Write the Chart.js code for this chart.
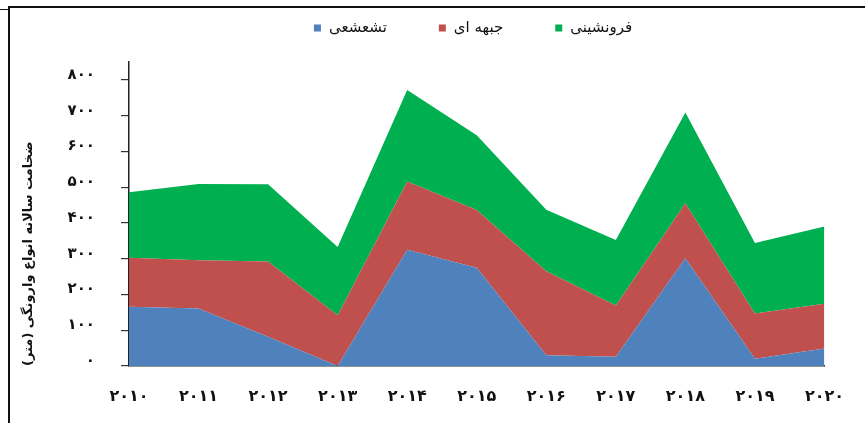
<!DOCTYPE html>
<html>
<head>
<meta charset="utf-8">
<script src="https://cdn.jsdelivr.net/npm/chart.js@4/dist/chart.umd.min.js"></script>
<style>
  body { margin: 0; background: #fff; }
  #wrap { position: relative; width: 865px; height: 423px; }
  #frame { position: absolute; left: 8px; top: 6px; right: 0; bottom: 0; border-top: 2px solid #111; border-left: 2px solid #111; }
  #stub { position: absolute; left: 0; top: 9px; width: 9px; border-top: 1px solid #111; }
  canvas { position: absolute; left: 0; top: 0; }
</style>
</head>
<body>
<div id="wrap">
  <div id="stub"></div>
  <div id="frame"></div>
  <canvas id="myChart" width="865" height="423"></canvas>
</div>
<script>
const years = ['۲۰۱۰', '۲۰۱۱', '۲۰۱۲', '۲۰۱۳', '۲۰۱۴', '۲۰۱۵', '۲۰۱۶', '۲۰۱۷', '۲۰۱۸', '۲۰۱۹', '۲۰۲۰'];
const seriesNames = ['تشعشعی', 'جبهه ای', 'فرونشینی'];
const radiative = [166, 161, 82, 0, 325, 275, 30, 26, 301, 20, 49];
const frontal = [137, 135, 210, 142, 191, 161, 235, 143, 154, 127, 125];
const subsidence = [183, 213, 216, 191, 256, 209, 172, 183, 254, 197, 216];
const yTicks = [0, 100, 200, 300, 400, 500, 600, 700, 800];
const yTitle = 'ضخامت سالانه انواع وارونگی (متر)';

const faDigits = '۰۱۲۳۴۵۶۷۸۹';
const toFa = v => String(v).replace(/\d/g, d => faDigits[d]);

const font = "'DejaVu Sans', sans-serif";
const ctx = document.getElementById('myChart').getContext('2d');

// legend drawn by hand: box left of text, wide gaps, but no tall legend block
const topLegend = {
    id: 'topLegend',
    afterDraw(chart) {
        const c = chart.ctx;
        const box = 7, gap = 8, space = 52, y = 28;
        c.save();
        c.font = '15px ' + font;
        c.textBaseline = 'middle';
        c.textAlign = 'left';
        const items = chart.data.datasets.map(ds => ({ text: ds.label, color: ds.backgroundColor, w: c.measureText(ds.label).width }));
        const total = items.reduce((s, it) => s + box + gap + it.w, 0) + space * (items.length - 1);
        let x = 473 - total / 2;
        items.forEach(it => {
            c.fillStyle = it.color;
            c.fillRect(x, y - box / 2, box, box);
            c.fillStyle = '#111';
            c.fillText(it.text, x + box + gap, y);
            x += box + gap + it.w + space;
        });
        c.restore();
    },
};

const data = {
    labels: years,
    datasets: [
        { label: seriesNames[0], data: radiative, backgroundColor: '#4f81bd', fill: 'origin' },
        { label: seriesNames[1], data: frontal, backgroundColor: '#c0504d', fill: '-1' },
        { label: seriesNames[2], data: subsidence, backgroundColor: '#00b050', fill: '-1' },
    ],
};

const config = {
    type: 'line',
    data: data,
    plugins: [topLegend],
    options: {
        responsive: false,
        animation: false,
        layout: { padding: { left: 12, right: 27, top: 62, bottom: 0 } },
        elements: {
            line: { borderWidth: 0, tension: 0 },
            point: { radius: 0 },
        },
        plugins: {
            tooltip: { enabled: false },
            legend: { display: false },
        },
        scales: {
            x: {
                offset: false,
                grid: { display: false, drawTicks: false },
                border: { display: true, color: '#222', width: 1.5 },
                ticks: {
                    color: '#111',
                    font: { family: font, size: 16, weight: 'bold' },
                    padding: 21,
                    maxRotation: 0,
                    autoSkip: false,
                },
                afterFit: scale => { scale.height = 57; },
            },
            y: {
                stacked: true,
                min: 0,
                max: 850,
                afterBuildTicks: scale => { scale.ticks = yTicks.map(v => ({ value: v })); },
                grid: { drawOnChartArea: false, drawTicks: true, tickLength: 8, color: '#333', lineWidth: 1.2 },
                border: { display: true, color: '#222', width: 1.5 },
                ticks: {
                    color: '#111',
                    font: { family: font, size: 15, weight: 'bold' },
                    padding: 26,
                    labelOffset: -5,
                    callback: v => toFa(v),
                },
                title: {
                    display: true,
                    text: yTitle,
                    align: 'start',
                    color: '#111',
                    font: { family: font, size: 13, weight: 'bold' },
                    padding: { top: 9, bottom: 0 },
                },
                afterFit: scale => { scale.width = 117; },
            },
        },
    },
};

const myChart = new Chart(ctx, config);
</script>
</body>
</html>
